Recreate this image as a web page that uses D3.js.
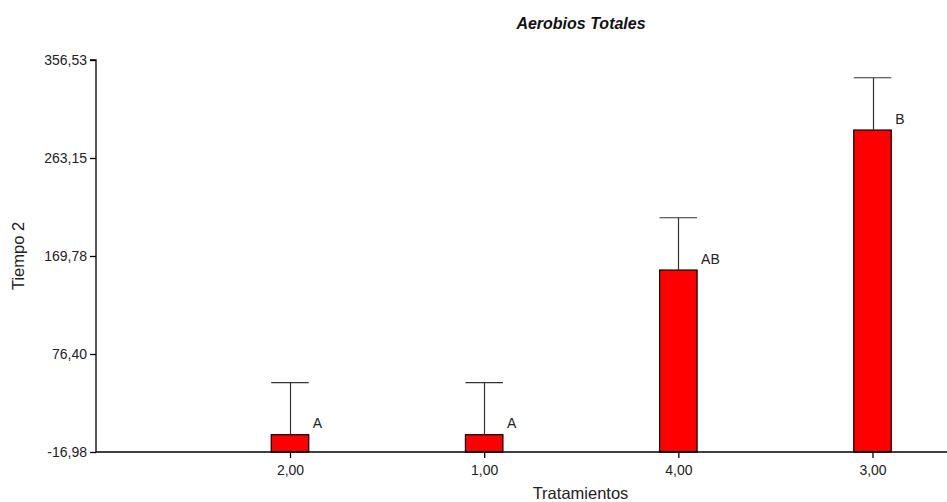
<!DOCTYPE html>
<html>
<head>
<meta charset="utf-8">
<script src="https://cdn.jsdelivr.net/npm/d3@7"></script>
<style>
  html, body { margin: 0; padding: 0; background: #fff; }
  svg { display: block; font-family: "Liberation Sans", Arial, sans-serif; }
</style>
</head>
<body>
<svg id="chart" width="947" height="502"></svg>
<script>
// Treatment groups, in plotted order
const categories = ["2,00", "1,00", "4,00", "3,00"];
// Mean of "Tiempo 2" per treatment
const means = [-0.5, -0.5, 156.4, 289.8];
// Error bar length (upper whisker)
const errors = [49.7, 49.7, 49.8, 49.8];
// Significance letters
const letters = ["A", "A", "AB", "B"];
// Y axis tick values and labels
const yTicks = [-16.98, 76.40, 169.78, 263.15, 356.53];
const yTickLabels = ["-16,98", "76,40", "169,78", "263,15", "356,53"];

(function () {
  const svg = d3.select("#chart");
  const W = 947;
  const plotLeft = 96, plotTop = 60, plotBottom = 452;
  const barW = 37.5;

  const y = d3.scaleLinear()
    .domain([yTicks[0], yTicks[yTicks.length - 1]])
    .range([plotBottom, plotTop]);

  const x = d3.scalePoint()
    .domain(categories)
    .range([290, 872.5])
    .padding(0);

  // Bars
  svg.append("g").selectAll("rect")
    .data(categories)
    .join("rect")
    .attr("x", d => x(d) - barW / 2)
    .attr("y", (d, i) => y(means[i]))
    .attr("width", barW)
    .attr("height", (d, i) => plotBottom - y(means[i]))
    .attr("fill", "#ff0000")
    .attr("stroke", "#000")
    .attr("stroke-width", 1.2);

  // Error bars (upper whisker with cap)
  const eb = svg.append("g").attr("stroke", "#333").attr("stroke-width", 1.2);
  categories.forEach((c, i) => {
    const cx = Math.round(x(c)) + 0.5;
    eb.append("line")
      .attr("x1", cx).attr("x2", cx)
      .attr("y1", y(means[i])).attr("y2", y(means[i] + errors[i]));
    eb.append("line")
      .attr("x1", x(c) - barW / 2).attr("x2", x(c) + barW / 2)
      .attr("y1", y(means[i] + errors[i])).attr("y2", y(means[i] + errors[i]));
  });

  // Letters next to bars
  svg.append("g").selectAll("text")
    .data(categories)
    .join("text")
    .attr("x", d => x(d) + barW / 2 + 4)
    .attr("y", (d, i) => y(means[i]) - 6.5)
    .attr("font-size", 14)
    .attr("fill", "#222")
    .text((d, i) => letters[i]);

  // Y axis
  const yAxis = d3.axisLeft(y)
    .tickValues(yTicks)
    .tickFormat((d, i) => yTickLabels[i])
    .tickSize(6)
    .tickPadding(3);
  const gy = svg.append("g").attr("transform", `translate(${plotLeft},0)`).call(yAxis);
  gy.select(".domain").attr("d", `M-6,${plotTop}H0V${plotBottom}`).attr("stroke", "#000").attr("stroke-width", 1.3);
  gy.selectAll(".tick line").attr("stroke", "#000").attr("stroke-width", 1.3);
  gy.selectAll(".tick text").attr("font-size", 14).attr("fill", "#222")
    .attr("font-family", "'Liberation Sans', Arial, sans-serif");

  // X axis
  const xAxis = d3.axisBottom(x).tickSize(6).tickPadding(7);
  const gx = svg.append("g").attr("transform", `translate(0,${plotBottom})`).call(xAxis);
  gx.select(".domain").attr("d", `M${plotLeft},0H${W}`).attr("stroke", "#000").attr("stroke-width", 1.3);
  gx.selectAll(".tick line").attr("stroke", "#000").attr("stroke-width", 1.3);
  gx.selectAll(".tick text").attr("font-size", 14).attr("fill", "#222")
    .attr("font-family", "'Liberation Sans', Arial, sans-serif");

  // Title
  svg.append("text")
    .attr("x", 581).attr("y", 29)
    .attr("text-anchor", "middle")
    .attr("font-size", 16)
    .attr("font-weight", "bold")
    .attr("font-style", "italic")
    .attr("fill", "#111")
    .text("Aerobios Totales");

  // Axis titles
  svg.append("text")
    .attr("transform", `translate(24,${(plotTop + plotBottom) / 2}) rotate(-90)`)
    .attr("text-anchor", "middle")
    .attr("font-size", 16.5)
    .attr("fill", "#222")
    .text("Tiempo 2");

  svg.append("text")
    .attr("x", 580.5).attr("y", 499)
    .attr("text-anchor", "middle")
    .attr("font-size", 16.5)
    .attr("fill", "#222")
    .text("Tratamientos");
})();
</script>
</body>
</html>
